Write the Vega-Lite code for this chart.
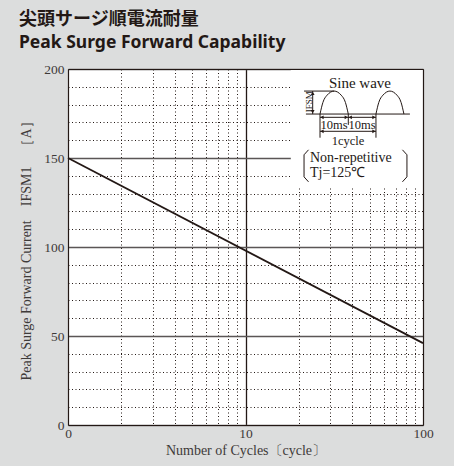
{
  "$schema": "https://vega.github.io/schema/vega-lite/v6.json",
  "width": 355,
  "height": 356,
  "autosize": {"type": "none"},
  "padding": {"left": 68, "top": 69, "right": 31, "bottom": 41},
  "background": "#dcdddd",
  "config": {"view": {"stroke": null, "fill": "white"}, "font": "Liberation Serif"},
  "title": {
    "text": "尖頭サージ順電流耐量",
    "subtitle": "Peak Surge Forward Capability",
    "anchor": "start",
    "frame": "group",
    "dx": -49,
    "font": "Noto Sans CJK JP",
    "fontSize": 18,
    "fontWeight": "bold",
    "color": "#231815",
    "subtitleFont": "Noto Sans",
    "subtitleFontSize": 17.5,
    "subtitleFontWeight": "bold",
    "subtitleColor": "#231815",
    "subtitlePadding": 5,
    "offset": 11
  },
  "datasets": {
    "curve": [{"cycles": 1, "current": 150}, {"cycles": 100, "current": 46}],
    "box": [{"x0": 18, "x1": 100, "y0": 134, "y1": 200}],
    "segs": [
      {"x": 21.37, "x2": 31.58, "y": 187.6, "y2": 187.6},
      {"x": 21.9, "x2": 84.38, "y": 174.7, "y2": 174.7},
      {"x": 23.91, "x2": 23.91, "y": 174.7, "y2": 187.6},
      {"x": 26.29, "x2": 26.29, "y": 174.7, "y2": 161.4},
      {"x": 37.94, "x2": 37.94, "y": 174.7, "y2": 168.6},
      {"x": 54.32, "x2": 54.32, "y": 174.7, "y2": 161.4},
      {"x": 26.29, "x2": 54.32, "y": 172.85, "y2": 172.85},
      {"x": 26.29, "x2": 54.32, "y": 165.0, "y2": 165.0}
    ],
    "humps": [
      {"hump": 1, "x": 26.29, "y": 174.7},
      {"hump": 1, "x": 27.28, "y": 181.15},
      {"hump": 1, "x": 28.82, "y": 185.3},
      {"hump": 1, "x": 31.58, "y": 187.6},
      {"hump": 1, "x": 34.6, "y": 185.3},
      {"hump": 1, "x": 36.57, "y": 181.15},
      {"hump": 1, "x": 37.94, "y": 174.7},
      {"hump": 2, "x": 54.32, "y": 174.7},
      {"hump": 2, "x": 56.32, "y": 181.15},
      {"hump": 2, "x": 59.48, "y": 185.3},
      {"hump": 2, "x": 65.12, "y": 187.6},
      {"hump": 2, "x": 71.31, "y": 185.3},
      {"hump": 2, "x": 75.3, "y": 181.15},
      {"hump": 2, "x": 78.08, "y": 174.7}
    ],
    "brackets": [
      {"side": "L", "k": 0, "x": 22.65, "y": 154.6},
      {"side": "L", "k": 1, "x": 21.37, "y": 151.8},
      {"side": "L", "k": 2, "x": 21.37, "y": 139.4},
      {"side": "L", "k": 3, "x": 22.65, "y": 136.6},
      {"side": "R", "k": 0, "x": 76.58, "y": 154.6},
      {"side": "R", "k": 1, "x": 81.2, "y": 151.8},
      {"side": "R", "k": 2, "x": 81.2, "y": 139.4},
      {"side": "R", "k": 3, "x": 76.58, "y": 136.6}
    ],
    "arrowsLeft": [{"x": 26.98, "y": 172.85}, {"x": 38.93, "y": 172.85}, {"x": 26.98, "y": 165.0}],
    "arrowsRight": [{"x": 36.96, "y": 172.85}, {"x": 52.93, "y": 172.85}, {"x": 52.93, "y": 165.0}],
    "arrowsUp": [{"x": 23.91, "y": 186.3}],
    "arrowsDown": [{"x": 23.91, "y": 176.0}],
    "textBigCenter": [{"x": 44.15, "y": 192.4, "label": "Sine wave"}],
    "textBigLeft": [{"x": 23.09, "y": 149.8, "label": "Non-repetitive"}, {"x": 23.09, "y": 141.3, "label": "Tj=125℃"}],
    "textSmall": [{"x": 31.5, "y": 168.6, "label": "10ms"}, {"x": 45.31, "y": 168.6, "label": "10ms"}, {"x": 37.79, "y": 159.4, "label": "1cycle"}],
    "textRot": [{"x": 22.75, "y": 181.6, "label": "IFSM"}]
  },
  "resolve": {"axis": {"x": "independent", "y": "independent"}},
  "layer": [
    {
      "data": {"name": "curve"},
      "mark": {"type": "line", "color": "#231815", "strokeWidth": 1.8},
      "encoding": {
        "x": {
          "field": "cycles", "type": "quantitative",
          "scale": {"type": "log", "domain": [1, 100]},
          "axis": {
            "orient": "bottom",
            "values": [1, 2, 3, 4, 5, 6, 7, 8, 9, 10, 20, 30, 40, 50, 60, 70, 80, 90, 100],
            "labelExpr": "datum.value == 1 ? '0' : (datum.value == 10 ? '10' : (datum.value == 100 ? '100' : ''))",
            "labelFlush": false, "labelOverlap": false, "ticks": false, "labelPadding": 1,
            "labelFont": "Liberation Serif", "labelFontSize": 13.5, "labelColor": "#3e3a39",
            "domainColor": "#231815", "domainWidth": 1.2,
            "grid": true,
            "gridColor": "#231815",
            "gridDash": {"condition": {"test": "datum.value == 10", "value": []}, "value": [1, 2.5]},
            "gridWidth": {"condition": {"test": "datum.value == 10", "value": 1.3}, "value": 1},
            "title": "Number of Cycles〔cycle〕",
            "titleFont": "Liberation Serif", "titleFontSize": 14, "titleFontWeight": "normal",
            "titleColor": "#3e3a39", "titlePadding": 4
          }
        },
        "y": {
          "field": "current", "type": "quantitative",
          "scale": {"domain": [0, 200], "nice": false},
          "axis": {
            "orient": "left",
            "values": [0, 10, 20, 30, 40, 50, 60, 70, 80, 90, 100, 110, 120, 130, 140, 150, 160, 170, 180, 190, 200],
            "labelExpr": "datum.value % 50 == 0 ? datum.label : ''",
            "labelFlush": false, "labelOverlap": false, "ticks": false, "labelPadding": 4,
            "labelFont": "Liberation Serif", "labelFontSize": 13.5, "labelColor": "#3e3a39",
            "domainColor": "#231815", "domainWidth": 1.2,
            "grid": true,
            "gridColor": {"condition": {"test": "datum.value % 50 == 0", "value": "#5a5656"}, "value": "#231815"},
            "gridDash": {"condition": {"test": "datum.value % 50 == 0", "value": []}, "value": [1, 2.5]},
            "gridWidth": {"condition": {"test": "datum.value % 50 == 0", "value": 1.5}, "value": 1},
            "title": "Peak Surge Forward Current　IFSM1　［A］",
            "titleFont": "Liberation Serif", "titleFontSize": 14, "titleFontWeight": "normal",
            "titleColor": "#3e3a39", "titlePadding": 10
          }
        }
      }
    },
    {
      "data": {"name": "box"},
      "mark": {"type": "rect", "fill": "white", "stroke": null},
      "encoding": {
        "x": {"field": "x0", "type": "quantitative", "scale": {"type": "log", "domain": [1, 100]},
              "axis": {"orient": "top", "domain": true, "domainColor": "#231815", "domainWidth": 1.2, "labels": false, "ticks": false, "grid": false, "title": null, "zindex": 1}},
        "x2": {"field": "x1"},
        "y": {"field": "y0", "type": "quantitative",
              "axis": {"orient": "right", "domain": true, "domainColor": "#231815", "domainWidth": 1.2, "labels": false, "ticks": false, "grid": false, "title": null, "zindex": 1}},
        "y2": {"field": "y1"}
      }
    },
    {
      "data": {"name": "segs"},
      "mark": {"type": "rule", "color": "#231815", "strokeWidth": 1},
      "encoding": {
        "x": {"field": "x", "type": "quantitative", "axis": null},
        "x2": {"field": "x2"},
        "y": {"field": "y", "type": "quantitative", "axis": null},
        "y2": {"field": "y2"}
      }
    },
    {
      "data": {"name": "humps"},
      "mark": {"type": "line", "interpolate": "monotone", "color": "#231815", "strokeWidth": 1},
      "encoding": {
        "x": {"field": "x", "type": "quantitative", "axis": null},
        "y": {"field": "y", "type": "quantitative", "axis": null},
        "detail": {"field": "hump"}
      }
    },
    {
      "data": {"name": "brackets"},
      "mark": {"type": "line", "color": "#231815", "strokeWidth": 1},
      "encoding": {
        "x": {"field": "x", "type": "quantitative", "axis": null},
        "y": {"field": "y", "type": "quantitative", "axis": null},
        "detail": {"field": "side"},
        "order": {"field": "k"}
      }
    },
    {
      "data": {"name": "arrowsLeft"},
      "mark": {"type": "point", "shape": "triangle-left", "filled": true, "size": 14, "color": "#231815", "opacity": 1},
      "encoding": {"x": {"field": "x", "type": "quantitative", "axis": null}, "y": {"field": "y", "type": "quantitative", "axis": null}}
    },
    {
      "data": {"name": "arrowsRight"},
      "mark": {"type": "point", "shape": "triangle-right", "filled": true, "size": 14, "color": "#231815", "opacity": 1},
      "encoding": {"x": {"field": "x", "type": "quantitative", "axis": null}, "y": {"field": "y", "type": "quantitative", "axis": null}}
    },
    {
      "data": {"name": "arrowsUp"},
      "mark": {"type": "point", "shape": "triangle-up", "filled": true, "size": 14, "color": "#231815", "opacity": 1},
      "encoding": {"x": {"field": "x", "type": "quantitative", "axis": null}, "y": {"field": "y", "type": "quantitative", "axis": null}}
    },
    {
      "data": {"name": "arrowsDown"},
      "mark": {"type": "point", "shape": "triangle-down", "filled": true, "size": 14, "color": "#231815", "opacity": 1},
      "encoding": {"x": {"field": "x", "type": "quantitative", "axis": null}, "y": {"field": "y", "type": "quantitative", "axis": null}}
    },
    {
      "data": {"name": "textBigCenter"},
      "mark": {"type": "text", "font": "Liberation Serif", "fontSize": 15, "color": "#231815", "align": "center", "baseline": "middle"},
      "encoding": {"x": {"field": "x", "type": "quantitative", "axis": null}, "y": {"field": "y", "type": "quantitative", "axis": null}, "text": {"field": "label"}}
    },
    {
      "data": {"name": "textBigLeft"},
      "mark": {"type": "text", "font": "Liberation Serif", "fontSize": 14, "color": "#231815", "align": "left", "baseline": "middle"},
      "encoding": {"x": {"field": "x", "type": "quantitative", "axis": null}, "y": {"field": "y", "type": "quantitative", "axis": null}, "text": {"field": "label"}}
    },
    {
      "data": {"name": "textSmall"},
      "mark": {"type": "text", "font": "Liberation Serif", "fontSize": 12.5, "color": "#231815", "align": "center", "baseline": "middle"},
      "encoding": {"x": {"field": "x", "type": "quantitative", "axis": null}, "y": {"field": "y", "type": "quantitative", "axis": null}, "text": {"field": "label"}}
    },
    {
      "data": {"name": "textRot"},
      "mark": {"type": "text", "font": "Liberation Serif", "fontSize": 9, "color": "#231815", "align": "center", "baseline": "middle", "angle": 270},
      "encoding": {"x": {"field": "x", "type": "quantitative", "axis": null}, "y": {"field": "y", "type": "quantitative", "axis": null}, "text": {"field": "label"}}
    }
  ]
}
